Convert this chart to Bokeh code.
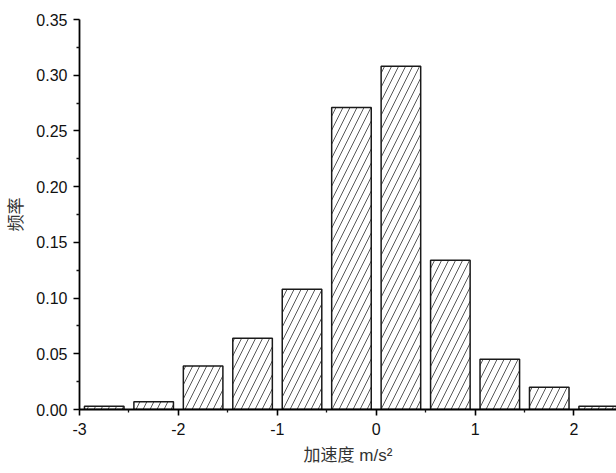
from bokeh.plotting import figure
from bokeh.models import Range1d, FixedTicker, ColumnDataSource
from bokeh.embed import file_html
from bokeh.resources import INLINE

# Acceleration histogram: bin centres (m/s^2) and relative frequencies
bin_centers = [-2.75, -2.25, -1.75, -1.25, -0.75, -0.25, 0.25, 0.75, 1.25, 1.75, 2.25]
frequency = [0.003, 0.007, 0.039, 0.064, 0.108, 0.271, 0.308, 0.134, 0.045, 0.020, 0.003]
x_ticks = [-3, -2, -1, 0, 1, 2]
x_minor = [-2.5, -1.5, -0.5, 0.5, 1.5]
y_ticks = [0.0, 0.05, 0.10, 0.15, 0.20, 0.25, 0.30, 0.35]
y_minor = [0.025, 0.075, 0.125, 0.175, 0.225, 0.275, 0.325]

src = ColumnDataSource(dict(x=bin_centers, top=frequency))

p = figure(width=616, height=473, output_backend="svg", toolbar_location=None,
           x_range=Range1d(-3, 2.43), y_range=Range1d(0, 0.35),
           min_border_left=79, min_border_right=0, min_border_top=19,
           min_border_bottom=64)
p.outline_line_color = None
p.xgrid.visible = False
p.ygrid.visible = False
p.background_fill_color = "white"
p.border_fill_color = "white"

p.vbar(x="x", top="top", bottom=0, width=0.4, source=src,
       fill_color="white", line_color="#1a1a1a", line_width=1.5,
       hatch_pattern="/", hatch_color="#444444", hatch_weight=0.9,
       hatch_scale=14)

label_font = "Liberation Sans"
cjk_font = "'Liberation Sans', 'Noto Sans CJK SC'"

for ax, ticks, minor in ((p.xaxis[0], x_ticks, x_minor), (p.yaxis[0], y_ticks, y_minor)):
    ax.ticker = FixedTicker(ticks=ticks, minor_ticks=minor)
    ax.axis_line_color = "#000000"
    ax.axis_line_width = 1.8
    ax.major_tick_line_color = "#000000"
    ax.major_tick_line_width = 1.6
    ax.minor_tick_line_color = "#111111"
    ax.minor_tick_line_width = 1.3
    ax.major_tick_out = 6
    ax.major_tick_in = 0
    ax.minor_tick_out = 3
    ax.minor_tick_in = 0
    ax.major_label_text_font = label_font
    ax.major_label_text_font_size = "16px"
    ax.major_label_text_color = "#111111"
    ax.axis_label_text_font = cjk_font
    ax.axis_label_text_font_size = "17px"
    ax.axis_label_text_font_style = "normal"
    ax.axis_label_text_color = "#333333"

p.xaxis.major_label_overrides = {t: str(t) for t in x_ticks}
p.yaxis.major_label_overrides = {t: f"{t:.2f}" for t in y_ticks}
p.xaxis.major_label_standoff = 7
p.yaxis.major_label_standoff = 6
p.xaxis.axis_label = "加速度 m/s²"
p.yaxis.axis_label = "频率"
p.xaxis.axis_label_standoff = 8
p.yaxis.axis_label_standoff = 7

open("out.html", "w").write(file_html(p, INLINE))
